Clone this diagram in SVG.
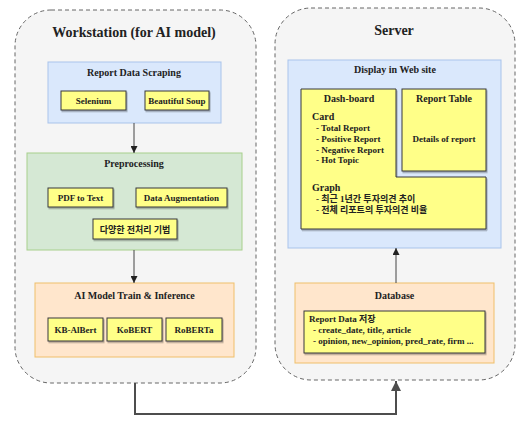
<svg xmlns="http://www.w3.org/2000/svg" width="526" height="432" viewBox="0 0 526 432">
<defs>
<style>
text{font-family:"Liberation Serif","Noto Sans CJK KR",serif;font-weight:bold;fill:#222}
.ct{fill:#f5f5f5;stroke:#666;stroke-dasharray:4 3;stroke-width:1}
.blue{fill:#dae8fc;stroke:#a9c4eb;stroke-width:1}
.green{fill:#d5e8d4;stroke:#a7d08c;stroke-width:1}
.orange{fill:#ffe6cc;stroke:#f0bf6a;stroke-width:1}
.yel{fill:#ffff88;stroke:#36393d;stroke-width:1;filter:url(#sh)}
.t14{font-size:14px;text-anchor:middle}
.t10{font-size:10px;text-anchor:middle}
.t9{font-size:9px;text-anchor:middle}
.l9{font-size:9px}
.l10{font-size:10px}
.ar{stroke:#444;stroke-width:1;fill:none}
.big{stroke:#4d4d4d;stroke-width:2;fill:none}
</style>
<filter id="sh" x="-10%" y="-10%" width="120%" height="130%">
<feDropShadow dx="1" dy="1.5" stdDeviation="0.6" flood-color="#000" flood-opacity="0.3"/>
</filter>
<marker id="ah" viewBox="0 0 10 10" refX="10" refY="5" markerWidth="7" markerHeight="7" markerUnits="userSpaceOnUse" orient="auto">
<path d="M0,0 L10,5 L0,10 Z" fill="#222"/>
</marker>
<marker id="ah2" viewBox="0 0 10 10" refX="10" refY="5" markerWidth="5" markerHeight="5" orient="auto">
<path d="M0,0 L10,5 L0,10 Z" fill="#4d4d4d"/>
</marker>
</defs>

<g id="workstation">
<rect class="ct" x="15" y="10" width="241" height="373" rx="36"/>
<text class="t14" x="134" y="37">Workstation (for AI model)</text>
</g>
<g id="server">
<rect class="ct" x="275" y="8" width="240" height="372" rx="36"/>
<text class="t14" x="394" y="35">Server</text>
</g>

<g id="scraping">
<rect class="blue" x="48" y="62" width="173" height="61"/>
<text class="t10" x="134" y="76">Report Data Scraping</text>
</g>
<g id="selenium">
<rect class="yel" x="61" y="91" width="65" height="19"/>
<text class="t9" x="93.5" y="103.5">Selenium</text>
</g>
<g id="bs">
<rect class="yel" x="145" y="91" width="64" height="19"/>
<text class="t9" x="177" y="103.5">Beautiful Soup</text>
</g>

<g id="preprocessing">
<rect class="green" x="27" y="153" width="215" height="97"/>
<text class="t10" x="134" y="167">Preprocessing</text>
</g>
<g id="pdf">
<rect class="yel" x="48" y="188" width="65" height="19"/>
<text class="t9" x="80.5" y="200.5">PDF to Text</text>
</g>
<g id="aug">
<rect class="yel" x="136" y="188" width="91" height="19"/>
<text class="t9" x="181.5" y="200.5">Data Augmentation</text>
</g>
<g id="various">
<rect class="yel" x="93" y="219" width="84" height="20"/>
<text class="t9" x="135" y="232.5">다양한 전처리 기법</text>
</g>

<g id="aimodel">
<rect class="orange" x="35" y="283" width="199" height="74"/>
<text class="t10" x="134.5" y="299">AI Model Train &amp; Inference</text>
</g>
<g id="kbalbert">
<rect class="yel" x="48" y="318" width="55" height="23"/>
<text class="t9" x="75.5" y="332.5">KB-AlBert</text>
</g>
<g id="kobert">
<rect class="yel" x="107" y="318" width="55" height="23"/>
<text class="t9" x="134.5" y="332.5">KoBERT</text>
</g>
<g id="roberta">
<rect class="yel" x="166" y="318" width="56" height="23"/>
<text class="t9" x="194" y="332.5">RoBERTa</text>
</g>

<g id="display">
<rect class="blue" x="288" y="60" width="213" height="188"/>
<text class="t10" x="395" y="73">Display in Web site</text>
</g>
<g id="dashboard">
<path class="yel" d="M301,89 H396 V177 H486 V229 H301 Z"/>
<text class="t10" x="349" y="102">Dash-board</text>
<text class="l10" x="312" y="120">Card</text>
<text class="l9" x="316" y="131">- Total Report</text>
<text class="l9" x="316" y="141.5">- Positive Report</text>
<text class="l9" x="316" y="152.5">- Negative Report</text>
<text class="l9" x="316" y="163">- Hot Topic</text>
<text class="l10" x="312" y="191">Graph</text>
<text class="l9" x="316" y="202">- 최근 1년간 투자의견 추이</text>
<text class="l9" x="316" y="213">- 전체 리포트의 투자의견 비율</text>
</g>
<g id="reporttable">
<rect class="yel" x="402" y="89" width="84" height="82"/>
<text class="t10" x="444" y="102">Report Table</text>
<text class="t9" x="444" y="142">Details of report</text>
</g>

<g id="database">
<rect class="orange" x="295" y="283" width="199" height="80"/>
<text class="t10" x="394.5" y="299">Database</text>
</g>
<g id="reportdata">
<rect class="yel" x="304" y="311" width="181" height="42"/>
<text class="l9" x="309" y="322">Report Data 저장</text>
<text class="l9" x="313" y="333">- create_date, title, article</text>
<text class="l9" x="313" y="344">- opinion, new_opinion, pred_rate, firm ...</text>
</g>

<g id="connectors">
<line class="ar" x1="134" y1="123" x2="134" y2="153" marker-end="url(#ah)"/>
<line class="ar" x1="134" y1="250" x2="134" y2="283" marker-end="url(#ah)"/>
<line class="ar" x1="396" y1="283" x2="396" y2="248" marker-end="url(#ah)"/>
<path class="big" d="M135,383 V414 H396 V381" marker-end="url(#ah2)"/>
</g>
</svg>
